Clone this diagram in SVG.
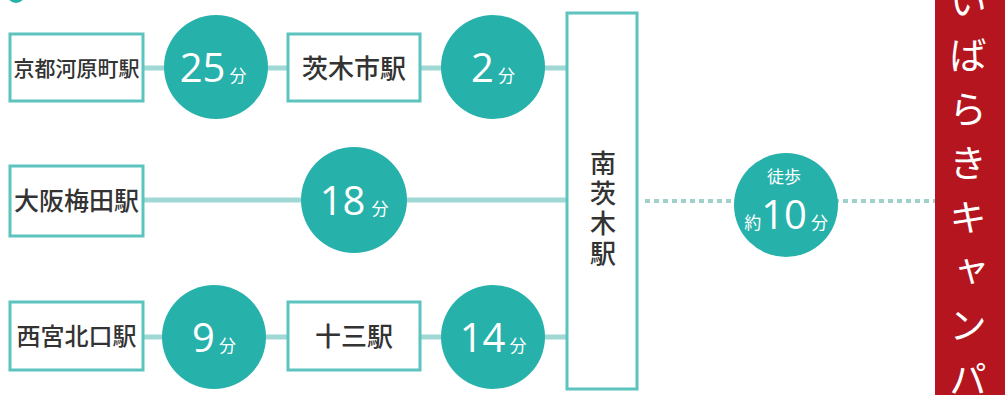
<svg xmlns="http://www.w3.org/2000/svg" width="1005" height="395" viewBox="0 0 1005 395">
<style>
.box{fill:#fff;stroke:#5cc3be;stroke-width:3}
.circ{fill:#27b1ab}
.st{font-family:"Noto Sans CJK JP","Noto Sans",sans-serif;fill:#333;text-anchor:middle;font-weight:500}
.num{font-family:"Open Sans","Noto Sans",sans-serif;fill:#fff;font-size:40px}
.fun{font-family:"Noto Sans CJK JP",sans-serif;fill:#fff;font-size:17px}
.line{stroke:#9fd8d4;stroke-width:5;fill:none}
</style>
<rect width="1005" height="395" fill="#fff"/>
<circle cx="16" cy="-6" r="9" class="circ"/>
<g id="connectors">
<line class="line" x1="143" y1="68" x2="288" y2="68"/>
<line class="line" x1="420" y1="68" x2="567" y2="68"/>
<line class="line" x1="143" y1="200" x2="567" y2="200"/>
<line class="line" x1="143" y1="337" x2="288" y2="337"/>
<line class="line" x1="420" y1="337" x2="567" y2="337"/>
<line x1="645" y1="201" x2="935" y2="201" stroke="#9fd0cc" stroke-width="4" stroke-dasharray="5 4"/>
</g>
<g id="kawaramachi"><rect class="box" x="10" y="34" width="133" height="67"/><text class="st" x="76.5" y="76" font-size="21">京都河原町駅</text></g>
<g id="t25"><circle class="circ" cx="216" cy="67" r="52"/><text x="213" y="82" text-anchor="middle"><tspan class="num">25</tspan><tspan class="fun" dx="4">分</tspan></text></g>
<g id="ibarakishi"><rect class="box" x="288" y="34" width="132" height="67"/><text class="st" x="354" y="78" font-size="26">茨木市駅</text></g>
<g id="t2"><circle class="circ" cx="493" cy="67" r="52"/><text x="493" y="82" text-anchor="middle"><tspan class="num">2</tspan><tspan class="fun" dx="4">分</tspan></text></g>
<g id="umeda"><rect class="box" x="10" y="166" width="133" height="70"/><text class="st" x="76.5" y="210" font-size="25">大阪梅田駅</text></g>
<g id="t18"><circle class="circ" cx="354" cy="200" r="53"/><text x="354" y="215" text-anchor="middle"><tspan class="num">18</tspan><tspan class="fun" dx="6">分</tspan></text></g>
<g id="nishinomiya"><rect class="box" x="10" y="302" width="133" height="68"/><text class="st" x="76.5" y="345" font-size="24">西宮北口駅</text></g>
<g id="t9"><circle class="circ" cx="214" cy="337" r="52"/><text x="214" y="352" text-anchor="middle"><tspan class="num">9</tspan><tspan class="fun" dx="4">分</tspan></text></g>
<g id="juso"><rect class="box" x="288" y="302" width="132" height="68"/><text class="st" x="354" y="346" font-size="26">十三駅</text></g>
<g id="t14"><circle class="circ" cx="493" cy="337" r="52"/><text x="493" y="352" text-anchor="middle"><tspan class="num">14</tspan><tspan class="fun" dx="4">分</tspan></text></g>
<g id="minamiibaraki"><rect class="box" x="567" y="13" width="70" height="376"/><text class="st" font-size="26" x="603" y="150" writing-mode="vertical-rl" style="text-anchor:start" letter-spacing="4">南茨木駅</text></g>
<g id="walk"><circle class="circ" cx="786" cy="205" r="52"/>
<text x="784" y="183" text-anchor="middle" class="fun" font-size="15">徒歩</text>
<text x="786" y="229" text-anchor="middle"><tspan class="fun" font-size="18">約</tspan><tspan class="num" font-size="32">10</tspan><tspan class="fun" dx="4" font-size="18">分</tspan></text></g>
<g id="campus"><rect x="935" y="0" width="70" height="395" fill="#b5151e"/>
<text x="968" y="-18" writing-mode="vertical-rl" font-family="Noto Sans CJK JP, sans-serif" font-size="38" fill="#fff" letter-spacing="16">いばらきキャンパ</text></g>
</svg>
